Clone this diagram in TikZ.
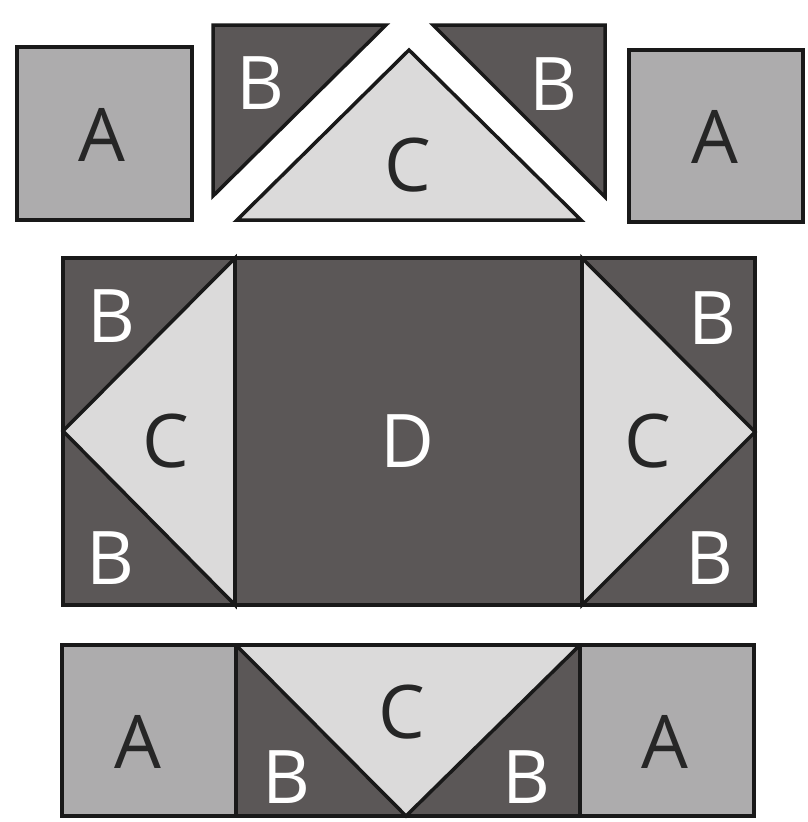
\documentclass[tikz,border=0pt]{standalone}
\usepackage{fontspec}
\setmainfont{Open Sans}
\begin{document}
\begin{tikzpicture}[x=1pt,y=-1pt,
  piece/.style={draw=black!90, line width=3.5pt, line join=miter},
  pa/.style={piece, fill=colA},
  pb/.style={piece, fill=colB},
  pc/.style={piece, fill=colC},
  lbl/.style={font=\fontsize{74}{78}\selectfont, inner sep=0pt},
  dk/.style={lbl, text=black!85},
  wt/.style={lbl, text=white}]
\definecolor{colA}{HTML}{ADACAD}
\definecolor{colB}{HTML}{5B5757}
\definecolor{colC}{HTML}{DBDADA}
\useasboundingbox (0,0) rectangle (808,822);
\fill[white] (0,0) rectangle (808,822);
% top row
\draw[pa] (17,47) rectangle (192,220);
\draw[pb] (213,25) -- (386,25) -- (213,196) -- cycle;
\draw[pc] (409,50) -- (581,220) -- (237,220) -- cycle;
\draw[pb] (433,25) -- (605,25) -- (605,197) -- cycle;
\draw[pa] (629,50) rectangle (803,222);
% middle block
\draw[pb] (63,258) rectangle (755,605);
\draw[pc] (235,258) -- (235,605) -- (63,431) -- cycle;
\draw[pc] (582,258) -- (755,432) -- (582,605) -- cycle;
\draw[piece] (235,258) -- (235,605) (582,258) -- (582,605);
% bottom row
\draw[pa] (62,645) rectangle (236,816);
\draw[pa] (580,645) rectangle (754,816);
\draw[pb] (236,645) rectangle (580,816);
\draw[pc] (236,645) -- (580,645) -- (406,816) -- cycle;
% labels
\node[dk] (a1) at (102,135) {A};
\node[wt] (b1) at (260,83) {B};
\node[dk] (c1) at (408,165) {C};
\node[wt] (b2) at (553,84) {B};
\node[dk] (a2) at (715,137) {A};
\node[wt] (b3) at (111,316) {B};
\node[dk] (c2) at (166,441) {C};
\node[wt] (b4) at (110,558) {B};
\node[wt] (d1) at (407,441) {D};
\node[dk] (c3) at (648,441) {C};
\node[wt] (b5) at (712,318) {B};
\node[wt] (b6) at (709,558) {B};
\node[dk] (a3) at (138,742) {A};
\node[dk] (c4) at (402,712) {C};
\node[wt] (b7) at (286,777) {B};
\node[wt] (b8) at (526,777) {B};
\node[dk] (a4) at (665,742) {A};
\end{tikzpicture}
\end{document}
